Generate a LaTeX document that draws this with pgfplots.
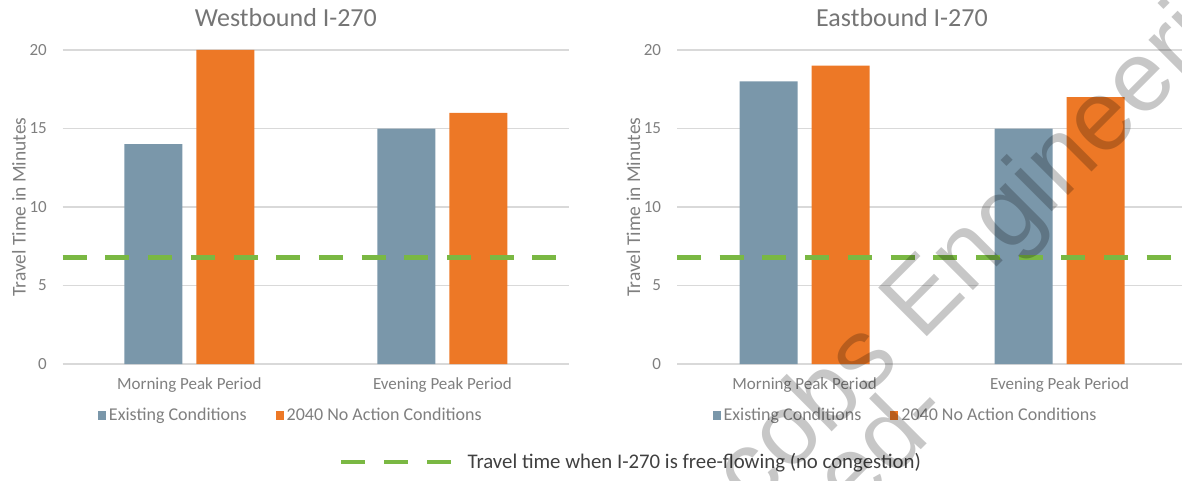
\documentclass[border=0pt]{standalone}
\usepackage{fontspec}
\setmainfont{Carlito}
\newfontfamily\wmfont{Liberation Sans}
\usepackage{pgfplots}
\pgfplotsset{compat=1.18}
\definecolor{barblue}{HTML}{7A97AA}
\definecolor{barorange}{HTML}{ED7826}
\definecolor{freegreen}{HTML}{7AB843}
\definecolor{gridgray}{HTML}{D9D9D9}
\definecolor{tickgray}{HTML}{7F7F7F}
\definecolor{titlegray}{HTML}{757575}
\definecolor{darktext}{HTML}{404040}
\pgfplotsset{
  panel/.style={
    scale only axis, height=314pt, ymin=0, ymax=20, ytick={0,5,10,15,20},
    axis line style={draw=none}, major tick length=0pt,
    ymajorgrids, grid style={draw=gridgray, line width=1.3pt},
    xtick={0,1}, xticklabels={Morning Peak Period, Evening Peak Period},
    tick label style={font=\fontsize{17}{20}\selectfont, text=tickgray},
    /pgf/number format/assume math mode=true,
    yticklabel style={anchor=east, inner sep=0pt, xshift=-15.7pt},
    xticklabel style={anchor=base, inner sep=0pt, yshift=-25pt},
    ylabel={Travel Time in Minutes},
    every axis y label/.style={at={(rel axis cs:0,0.5)}, xshift=-43.7pt, rotate=90, anchor=center,
      font=\fontsize{19.5}{22}\selectfont, text=tickgray},
    every axis title/.style={at={(rel axis cs:0.5,1)}, anchor=base, yshift=23.3pt,
      font=\fontsize{26}{30}\selectfont, text=titlegray},
    legend columns=2,
    legend style={at={(rel axis cs:0.5,0)}, anchor=center, yshift=-51pt, draw=none, fill=none,
      inner sep=0pt, font=\fontsize{18}{21}\selectfont, text=tickgray,
      nodes={inner sep=0pt},
      /tikz/every odd column/.append style={column sep=3pt},
      /tikz/every even column/.append style={column sep=29pt}},
  },
  mybar/.style={ybar, bar width=58pt, draw=none,
    legend image code/.code={\fill[##1] (0pt,-4.5pt) rectangle (8pt,4.5pt);}},
  freeline/.style={forget plot, color=freegreen, line width=5pt, dash pattern=on 24pt off 18.7pt},
}
\begin{document}
\begin{tikzpicture}[x=1pt,y=1pt]
\path[use as bounding box] (0,0) rectangle (1182,480);
\clip (0,0) rectangle (1182,480);
% Westbound
\begin{axis}[panel, at={(62.7pt,116pt)}, anchor=south west, width=506.3pt,
  xmin=-0.5, xmax=1.5, title={Westbound I-270},
  title style={xshift=-30pt}, legend style={xshift=-26pt}]
\addplot[mybar, bar shift=-36pt, fill=barblue] coordinates {(0,14) (1,15)};
\addlegendentry{Existing Conditions}
\addplot[mybar, bar shift=36pt, fill=barorange] coordinates {(0,20) (1,16)};
\addlegendentry{2040 No Action Conditions}
\addplot[freeline] coordinates {(-0.5,6.8) (1.5,6.8)};
\end{axis}
% Eastbound
\begin{axis}[panel, at={(677pt,116pt)}, anchor=south west, width=505pt,
  xmin=-0.5, xmax=1.48, title={Eastbound I-270},
  title style={xshift=-27.5pt}, legend style={xshift=-25pt}]
\addplot[mybar, bar shift=-36pt, fill=barblue] coordinates {(0,18) (1,15)};
\addlegendentry{Existing Conditions}
\addplot[mybar, bar shift=36pt, fill=barorange] coordinates {(0,19) (1,17)};
\addlegendentry{2040 No Action Conditions}
\addplot[freeline] coordinates {(-0.5,6.8) (1.48,6.8)};
\end{axis}
% bottom legend
\begin{axis}[hide axis, scale only axis, width=1pt, height=1pt, xmin=0, xmax=1, ymin=0, ymax=1,
  at={(339pt,18pt)}, anchor=south west,
  legend style={at={(rel axis cs:0,0)}, anchor=west, draw=none, fill=none, inner sep=0pt,
    font=\fontsize{20.8}{24}\selectfont, text=darktext, nodes={inner sep=0pt},
    /tikz/every odd column/.append style={column sep=14pt}},
  legend image code/.code={\draw[#1] (0pt,0pt) -- (110pt,0pt);}]
\addplot[draw=none, forget plot] coordinates {(0,0)};
\addlegendimage{color=freegreen, line width=4.5pt, dash pattern=on 24pt off 19pt}
\addlegendentry{Travel time when I-270 is free-flowing (no congestion)}
\end{axis}
% watermark
\node[rotate=45, anchor=base west, inner sep=0pt, opacity=0.22, text=black,
  font=\wmfont\fontsize{100}{120}\selectfont] at (678pt,-106pt) {Jacobs Engineering};
\node[rotate=45, anchor=base west, inner sep=0pt, opacity=0.22, text=black,
  font=\wmfont\fontsize{100}{120}\selectfont] at (853pt,-38pt) {ed-};
\end{tikzpicture}
\end{document}
